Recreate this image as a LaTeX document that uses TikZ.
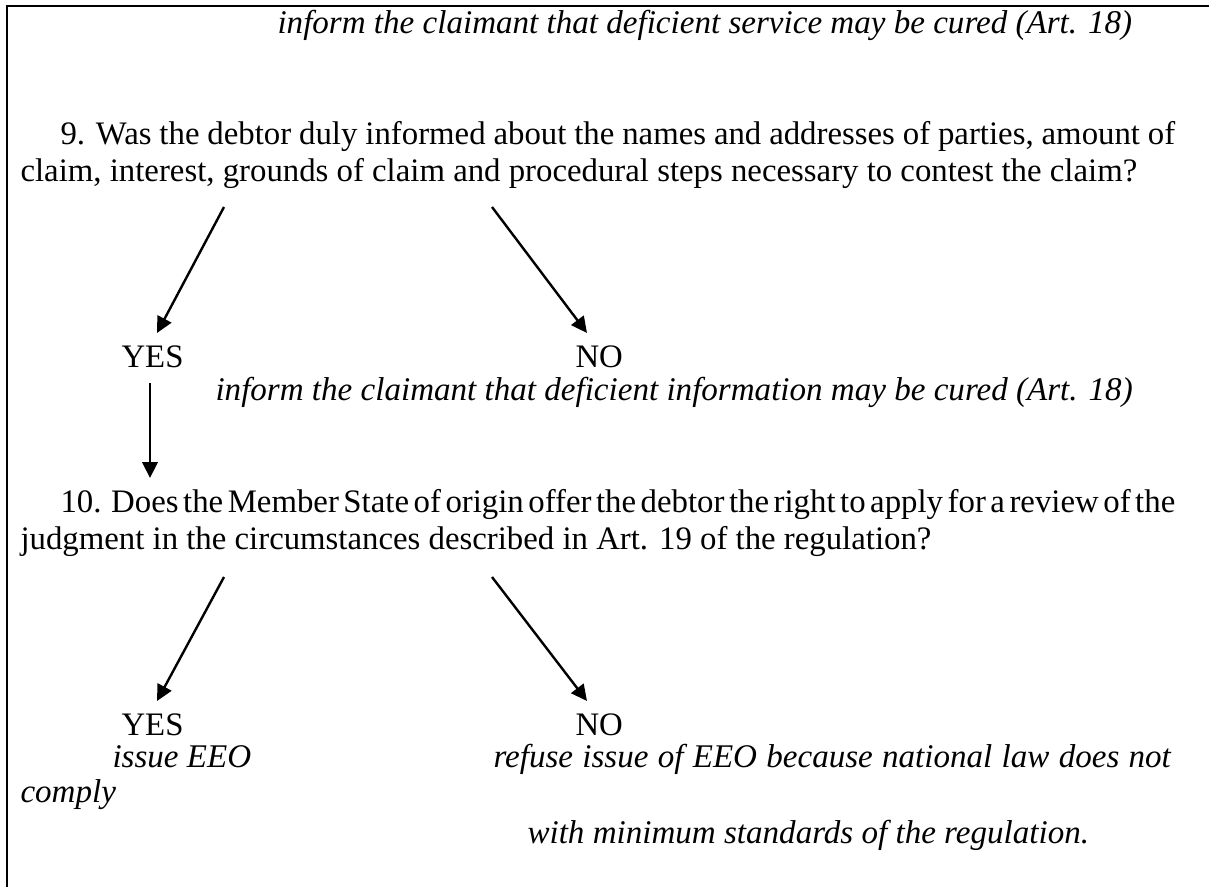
\documentclass[tikz,border=0pt]{standalone}
\usepackage{fontspec}
\setmainfont{Liberation Serif}
\usetikzlibrary{arrows.meta}
\newcommand{\justline}[2]{{\spaceskip=0.25em plus 0.6em minus 0.12em\relax\makebox[#1][s]{#2}}}
\begin{document}
\begin{tikzpicture}[x=0.375pt,y=-0.375pt,
  txt/.style={anchor=base west,inner sep=0pt,font=\fontsize{12.3pt}{14pt}\selectfont},
  itx/.style={anchor=base west,inner sep=0pt,font=\fontsize{12.4pt}{14pt}\selectfont\itshape},
  conn/.style={line width=0.9pt,-{Triangle[length=6pt,width=5.8pt]}},
  frame/.style={line width=1.1pt}]
\useasboundingbox (0,0) rectangle (1209,887);
\fill[white] (0,0) rectangle (1209,887);
\draw[frame] (7,887) -- (7,6) -- (1209,6);
% top
\node[itx] (top) at (277,34) {inform the claimant that deficient service may be cured (Art. 18)};
% question 9
\node[txt] (q9a) at (60,145) {\justline{418pt}{9. Was the debtor duly informed about the names and addresses of parties, amount of}};
\node[txt] (q9b) at (20,182) {claim, interest, grounds of claim and procedural steps necessary to contest the claim?};
\coordinate (a1s) at (224,207); \coordinate (a1e) at (157,333);
\coordinate (b1s) at (492,207); \coordinate (b1e) at (587,333);
\draw[conn] (a1s) -- (a1e);
\draw[conn] (b1s) -- (b1e);
\node[txt] (yes1) at (121,367) {YES};
\node[txt] (no1) at (575,367) {NO};
\node[itx] (inf1) at (215,400) {inform the claimant that deficient information may be cured (Art. 18)};
\coordinate (c1s) at (150,383); \coordinate (c1e) at (150,478);
\draw[conn] (c1s) -- (c1e);
% question 10
\node[txt] (q10a) at (60,512) {\justline{418pt}{10. Does the Member State of origin offer the debtor the right to apply for a review of the}};
\node[txt] (q10b) at (20,549) {judgment in the circumstances described in Art. 19 of the regulation?};
\coordinate (a2s) at (224,577); \coordinate (a2e) at (157,701);
\coordinate (b2s) at (492,577); \coordinate (b2e) at (587,701);
\draw[conn] (a2s) -- (a2e);
\draw[conn] (b2s) -- (b2e);
\node[txt] (yes2) at (121,735) {YES};
\node[txt] (no2) at (575,735) {NO};
\node[itx] (iss) at (112,767) {issue EEO};
\node[itx] (ref) at (493,767) {\justline{254pt}{refuse issue of EEO because national law does not}};
\node[itx] (comp) at (20,802) {comply};
\node[itx] (with) at (527,843) {with minimum standards of the regulation.};
\end{tikzpicture}
\end{document}
